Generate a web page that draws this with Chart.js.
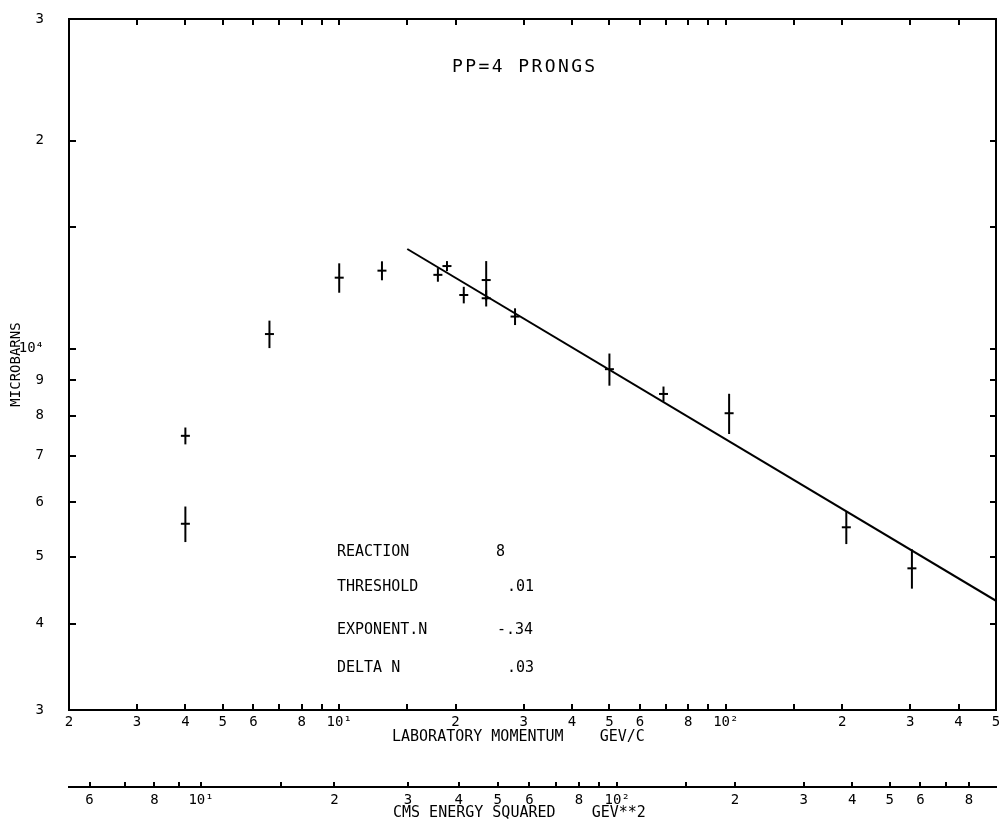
<!DOCTYPE html>
<html>
<head>
<meta charset="utf-8">
<title>PP=4 PRONGS</title>
<script src="https://cdn.jsdelivr.net/npm/chart.js@4.4.0/dist/chart.umd.min.js"></script>
<style>
  body { margin: 0; background: #fff; }
  canvas { display: block; }
</style>
</head>
<body>
<canvas id="myChart" width="1003" height="825"></canvas>
<script>

// lab momentum (GeV/c), cross section (microbarns) and its error
const momentum = [4, 4, 6.6, 10, 12.9, 18, 19, 21, 24, 24, 28.5, 50, 69, 102, 205, 303]
const sigma = [7480, 5580, 10500, 12670, 12970, 12790, 13170, 11960, 12570, 11830, 11130, 9340, 8600, 8065, 5515, 4810]
const sigmaErr = [210, 330, 480, 620, 410, 290, 220, 330, 820, 320, 310, 500, 215, 540, 300, 315]

// fitted power law, drawn as a straight line on log-log axes
const fitMomentum = [15, 500]
const fitSigma = [13940, 4317]

const labTicks = [2, 3, 4, 5, 6, 7, 8, 9, 10, 15, 20, 30, 40, 50, 60, 70, 80, 90, 100, 150, 200, 300, 400, 500]
const labLabels = ['2', '3', '4', '5', '6', '', '8', '', '10¹', '', '2', '3', '4', '5', '6', '', '8', '', '10²', '', '2', '3', '4', '5']

const cmsTicks = [6, 7, 8, 9, 10, 15, 20, 30, 40, 50, 60, 70, 80, 90, 100, 150, 200, 300, 400, 500, 600, 700, 800]
const cmsLabels = ['6', '', '8', '', '10¹', '', '2', '3', '4', '5', '6', '', '8', '', '10²', '', '2', '3', '4', '5', '6', '', '8']

const yTicks = [3000, 4000, 5000, 6000, 7000, 8000, 9000, 10000, 15000, 20000, 30000]
const yLabels = ['3', '4', '5', '6', '7', '8', '9', '10⁴', '', '2', '3']

const chartTitle = 'PP=4 PRONGS'
const infoNames = ['REACTION', 'THRESHOLD', 'EXPONENT.N', 'DELTA N']
const infoValues = ['8', '.01', '-.34', '.03']

const FONT = '"DejaVu Sans Mono", monospace'
const M_PROTON = 0.938

// lab momentum under a given s, used to place the lower (CMS) scale
function momentumFromS(s) {
    return s / (2 * M_PROTON) - M_PROTON
}

function setTicks(values) {
    return function (scale) {
        scale.ticks = values.map(v => ({ value: v }))
    }
}

// fixed thickness for a scale, and no extra room asked for its end labels
function fixSize(size) {
    return function (scale) {
        if (scale.isHorizontal()) scale.height = size
        else scale.width = size
        scale.paddingTop = 0
        scale.paddingBottom = 0
        scale.paddingLeft = 0
        scale.paddingRight = 0
    }
}

// vertical error bars for every point
const errorBars = {
    id: 'errorBars',
    afterDatasetsDraw(chart) {
        const { ctx } = chart
        const x = chart.scales.x
        const y = chart.scales.y
        ctx.save()
        ctx.strokeStyle = '#000'
        ctx.lineWidth = 2
        momentum.forEach((p, i) => {
            const px = x.getPixelForValue(p)
            ctx.beginPath()
            ctx.moveTo(px, y.getPixelForValue(sigma[i] + sigmaErr[i]))
            ctx.lineTo(px, y.getPixelForValue(sigma[i] - sigmaErr[i]))
            ctx.stroke()
        })
        ctx.restore()
    }
}

// title, fit parameters and the two bottom axis titles
const textos = {
    id: 'textos',
    afterDraw(chart) {
        const ctx = chart.ctx
        const area = chart.chartArea
        ctx.save()
        ctx.fillStyle = '#000'
        ctx.textBaseline = 'middle'
        ctx.textAlign = 'left'

        ctx.font = '18px ' + FONT
        ctx.letterSpacing = '2.4px'
        ctx.fillText(chartTitle, 452, area.top + 48)
        ctx.letterSpacing = '0px'

        ctx.font = '15px ' + FONT
        const rows = [552, 587, 630, 668]
        const valueX = [496, 507, 497, 507]
        infoNames.forEach((name, i) => {
            ctx.fillText(name, 337, rows[i])
            ctx.fillText(infoValues[i], valueX[i], rows[i])
        })

        ctx.fillText('LABORATORY MOMENTUM    GEV/C', 392, area.bottom + 27)
        ctx.fillText('CMS ENERGY SQUARED    GEV**2', 393, area.bottom + 103)
        ctx.restore()
    }
}

function grafico() {
    const ctx = document.getElementById('myChart')

    const puntos = momentum.map((p, i) => ({ x: p, y: sigma[i] }))
    const recta = fitMomentum.map((p, i) => ({ x: p, y: fitSigma[i] }))

    const axisBorder = { display: true, color: '#000', width: 2 }
    const tickFont = { family: FONT, size: 14 }

    new Chart(ctx, {
        type: 'scatter',
        data: {
            datasets: [{
                data: puntos,
                pointStyle: 'line',
                pointRadius: 4.5,
                borderColor: '#000',
                borderWidth: 2,
                backgroundColor: '#000'
            }, {
                data: recta,
                showLine: true,
                pointRadius: 0,
                borderColor: '#000',
                borderWidth: 2
            }]
        },
        options: {
            responsive: false,
            animation: false,
            events: [],
            layout: { padding: { top: 19, right: 7, left: 0, bottom: 0 } },
            plugins: {
                legend: { display: false },
                tooltip: { enabled: false }
            },
            scales: {
                x: {
                    type: 'logarithmic',
                    position: 'bottom',
                    min: 2,
                    max: 500,
                    weight: 0,
                    afterBuildTicks: setTicks(labTicks),
                    afterFit: fixSize(77),
                    border: axisBorder,
                    grid: { drawOnChartArea: false, color: '#000', lineWidth: 2, tickLength: -6 },
                    ticks: {
                        autoSkip: false, maxRotation: 0, minRotation: 0,
                        padding: 10, color: '#000', font: tickFont,
                        callback: (v, i) => labLabels[i]
                    }
                },
                xCms: {
                    type: 'logarithmic',
                    position: 'bottom',
                    min: 2,
                    max: 500,
                    weight: 1,
                    afterBuildTicks: setTicks(cmsTicks.map(momentumFromS)),
                    afterFit: fixSize(38),
                    border: axisBorder,
                    grid: { drawOnChartArea: false, color: '#000', lineWidth: 2, tickLength: -5 },
                    ticks: {
                        autoSkip: false, maxRotation: 0, minRotation: 0,
                        padding: 10, color: '#000', font: tickFont,
                        callback: (v, i) => cmsLabels[i]
                    }
                },
                xTop: {
                    type: 'logarithmic',
                    position: 'top',
                    min: 2,
                    max: 500,
                    afterBuildTicks: setTicks(labTicks),
                    afterFit: fixSize(0),
                    border: axisBorder,
                    grid: { drawOnChartArea: false, color: '#000', lineWidth: 2, tickLength: -6 },
                    ticks: { display: false }
                },
                y: {
                    type: 'logarithmic',
                    position: 'left',
                    min: 3000,
                    max: 30000,
                    afterBuildTicks: setTicks(yTicks),
                    afterFit: fixSize(69),
                    border: axisBorder,
                    grid: { drawOnChartArea: false, color: '#000', lineWidth: 2, tickLength: -7 },
                    ticks: {
                        autoSkip: false, padding: 32, color: '#000', font: tickFont,
                        callback: (v, i) => yLabels[i]
                    },
                    title: {
                        display: true,
                        text: 'MICROBARNS',
                        color: '#000',
                        font: { family: FONT, size: 14 },
                        padding: { top: 8, bottom: 0 }
                    }
                },
                yRight: {
                    type: 'logarithmic',
                    position: 'right',
                    min: 3000,
                    max: 30000,
                    afterBuildTicks: setTicks(yTicks),
                    afterFit: fixSize(0),
                    border: axisBorder,
                    grid: { drawOnChartArea: false, color: '#000', lineWidth: 2, tickLength: -6 },
                    ticks: { display: false }
                }
            }
        },
        plugins: [errorBars, textos]
    })
}

grafico()
</script>
</body>
</html>
